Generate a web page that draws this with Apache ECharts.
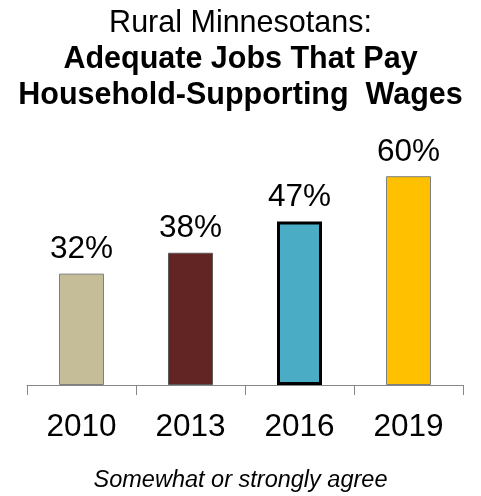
<!DOCTYPE html>
<html>
<head>
<meta charset="utf-8">
<script src="https://cdn.jsdelivr.net/npm/echarts@6/dist/echarts.min.js"></script>
<style>
  html, body { margin: 0; padding: 0; background: #fff; }
  #chart { width: 481px; height: 496px; }
</style>
</head>
<body>
<div id="chart"></div>
<script>
// Survey years and share who somewhat or strongly agree (%)
const years = ['2010', '2013', '2016', '2019'];
const agreePct = [32, 38, 47, 60];
const barColors = ['#C4BD97', '#632523', '#4BACC6', '#FFC000'];
const barBorders = ['#7F7F7F', '#595959', '#000000', '#7F7F7F'];
const barBorderWidths = [1, 1, 3, 1];

const FONT = '"Liberation Sans", Arial, Helvetica, sans-serif';

const chart = echarts.init(document.getElementById('chart'));

chart.setOption({
  animation: false,
  backgroundColor: '#ffffff',
  title: {
    left: 'center',
    top: 6,
    padding: 0,
    text: '{a|Rural Minnesotans:}\n{b|Adequate Jobs That Pay}\n{b|Household-Supporting  Wages}',
    textStyle: {
      rich: {
        a: { fontFamily: FONT, fontSize: 30.5, fontWeight: 'normal', color: '#000', lineHeight: 36, align: 'center' },
        b: { fontFamily: FONT, fontSize: 30.5, fontWeight: 'bold', color: '#000', lineHeight: 36, align: 'center' }
      }
    }
  },
  graphic: [{
    type: 'text',
    left: 'center',
    top: 469,
    style: {
      text: 'Somewhat or strongly agree',
      font: 'italic 23.5px ' + FONT,
      fill: '#000'
    }
  }],
  grid: { left: 27, right: 18, top: 37, bottom: 111 },
  xAxis: {
    type: 'category',
    data: years,
    boundaryGap: true,
    axisLine: { lineStyle: { color: '#868686', width: 1 } },
    axisTick: { show: true, length: 10, lineStyle: { color: '#868686' } },
    axisLabel: { fontFamily: FONT, fontSize: 31.5, color: '#000', margin: 26 }
  },
  yAxis: {
    type: 'value',
    min: 0,
    max: 100,
    show: false,
    splitLine: { show: false }
  },
  series: [{
    type: 'bar',
    barWidth: 45,
    data: agreePct.map((v, i) => ({
      value: v,
      itemStyle: {
        color: barColors[i],
        borderColor: barBorders[i],
        borderWidth: barBorderWidths[i]
      }
    })),
    label: {
      show: true,
      position: 'top',
      distance: 8,
      formatter: p => p.value + '%',
      fontFamily: FONT,
      fontSize: 31.5,
      color: '#000'
    }
  }]
});
</script>
</body>
</html>
